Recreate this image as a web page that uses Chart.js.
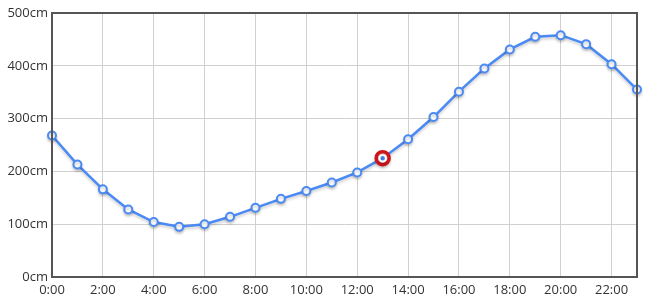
<!DOCTYPE html>
<html>
<head>
<meta charset="utf-8">
<script src="https://cdn.jsdelivr.net/npm/chart.js@4/dist/chart.umd.min.js"></script>
<style>
  html, body { margin: 0; padding: 0; background: #fff; }
  #wrap { width: 647px; height: 305px; position: relative; }
</style>
</head>
<body>
<div id="wrap"><canvas id="levelChart"></canvas></div>
<script>
// Data
const hours = ['0:00','1:00','2:00','3:00','4:00','5:00','6:00','7:00','8:00','9:00','10:00','11:00',
               '12:00','13:00','14:00','15:00','16:00','17:00','18:00','19:00','20:00','21:00','22:00','23:00'];
const levels = [268, 213, 166, 128, 104, 95, 100, 114, 131, 148, 163, 179,
                198, 225, 261, 303, 351, 395, 431, 455, 458, 441, 403, 355];
const yTicks = [0, 100, 200, 300, 400, 500];
const highlightIndex = 13;

const highlight = levels.map((v, i) => i === highlightIndex ? v : null);

// Frame around the plot area + soft line shadow
const framePlugin = {
    id: 'frame',
    beforeDatasetsDraw(chart) {
        const ctx = chart.ctx;
        ctx.save();
        ctx.shadowColor = 'rgba(0,0,0,0.2)';
        ctx.shadowBlur = 3;
        ctx.shadowOffsetY = 2;
    },
    afterDatasetsDraw(chart) {
        chart.ctx.restore();
    },
    afterDraw(chart) {
        const { ctx, chartArea: a } = chart;
        ctx.save();
        ctx.strokeStyle = '#555';
        ctx.lineWidth = 2;
        ctx.strokeRect(a.left, a.top, a.right - a.left, a.bottom - a.top);
        ctx.restore();
    }
};

const font = { family: '"Open Sans", "Noto Sans", sans-serif', size: 13 };

new Chart(document.getElementById('levelChart'), {
    type: 'line',
    data: {
        labels: hours,
        datasets: [{
            data: highlight,
            borderColor: '#ffffff',
            pointRadius: 3,
            pointBorderWidth: 1.5,
            pointBackgroundColor: '#4a8af4',
            showLine: false
        }, {
            data: highlight,
            borderColor: '#d0141c',
            pointRadius: 6.5,
            pointBorderWidth: 3.5,
            pointBackgroundColor: '#ffffff',
            showLine: false
        }, {
            label: 'Level',
            data: levels,
            borderColor: '#4a8af4',
            borderWidth: 2.5,
            tension: 0,
            fill: false,
            pointRadius: 4,
            pointBorderWidth: 2,
            pointBackgroundColor: '#ffffff',
            pointBorderColor: '#4a8af4'
        }]
    },
    options: {
        responsive: true,
        maintainAspectRatio: false,
        animation: false,
        events: [],
        layout: { padding: { top: 13, right: 9, left: 0, bottom: 0 } },
        scales: {
            x: {
                offset: false,
                grid: {
                    drawTicks: false,
                    color: ctx => ctx.index % 2 === 0 ? '#d0d0d0' : 'rgba(0,0,0,0)'
                },
                border: { display: false },
                ticks: {
                    autoSkip: false,
                    maxRotation: 0,
                    padding: 5,
                    color: '#333',
                    font: font,
                    callback: function (val, i) { return i % 2 === 0 ? hours[i] : ''; }
                },
                afterFit(scale) { scale.height = 28; }
            },
            y: {
                min: 0,
                max: 500,
                afterBuildTicks(scale) { scale.ticks = yTicks.map(v => ({ value: v })); },
                grid: { drawTicks: false, color: '#d0d0d0' },
                border: { display: false },
                ticks: {
                    padding: 4,
                    color: '#333',
                    font: font,
                    callback: v => v + 'cm'
                },
                afterFit(scale) { scale.width = 52; }
            }
        },
        plugins: {
            legend: { display: false },
            tooltip: { enabled: false }
        }
    },
    plugins: [framePlugin]
});
</script>
</body>
</html>
